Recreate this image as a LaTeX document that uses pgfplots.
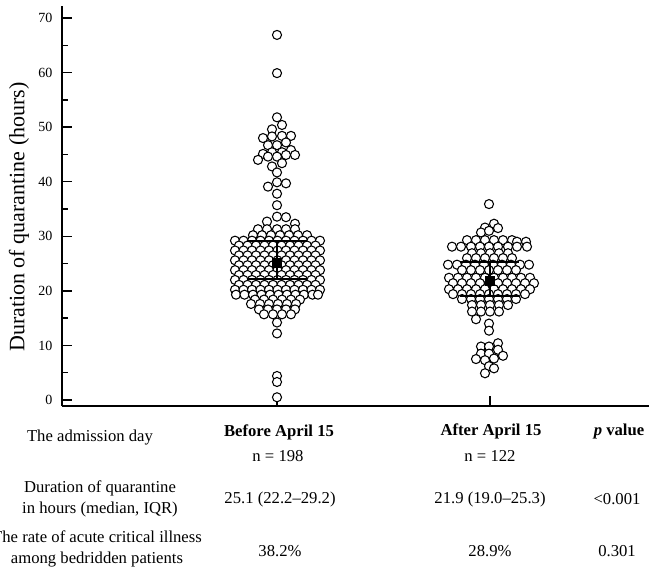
\documentclass[border=0pt]{standalone}
\usepackage{fontspec}
\setmainfont{Liberation Serif}
\usepackage{pgfplots}
\pgfplotsset{compat=1.18}

% x = horizontal position in image pixels, y = duration (hours)
\pgfplotstableread{
x y
277 66.9
277 59.9
277 51.8
282 50.4
272 49.6
263 48.0
272 48.3
282 48.4
291 48.4
268 46.7
277 46.7
286 47.2
263 45.1
272 45.4
282 45.4
291 45.8
295 44.9
258 44.0
268 44.6
277 44.6
286 44.9
272 42.8
282 43.4
277 41.7
277 39.9
268 39.1
286 39.7
277 37.8
277 35.7
267 32.7
277 33.6
286 33.5
295 32.3
258 31.3
267 31.3
277 31.3
286 31.3
295 31.3
253 30.2
262 30.2
271 30.2
280 30.2
289 30.2
298 30.2
307 30.2
235 29.2
243.5 29.2
252 29.2
260.5 29.2
269 29.2
277.5 29.2
286 29.2
294.5 29.2
303 29.2
311.5 29.2
320 29.2
239 28.3
247.5 28.3
256 28.3
264.5 28.3
273 28.3
281.5 28.3
290 28.3
298.5 28.3
307 28.3
315.5 28.3
235 27.4
243.5 27.4
252 27.4
260.5 27.4
269 27.4
277.5 27.4
286 27.4
294.5 27.4
303 27.4
311.5 27.4
320 27.4
239 26.5
247.5 26.5
256 26.5
264.5 26.5
273 26.5
281.5 26.5
290 26.5
298.5 26.5
307 26.5
315.5 26.5
235 25.6
243.5 25.6
252 25.6
260.5 25.6
269 25.6
277.5 25.6
286 25.6
294.5 25.6
303 25.6
311.5 25.6
320 25.6
239 24.7
247.5 24.7
256 24.7
264.5 24.7
273 24.7
281.5 24.7
290 24.7
298.5 24.7
307 24.7
315.5 24.7
235 23.8
243.5 23.8
252 23.8
260.5 23.8
269 23.8
277.5 23.8
286 23.8
294.5 23.8
303 23.8
311.5 23.8
320 23.8
239 22.9
247.5 22.9
256 22.9
264.5 22.9
273 22.9
281.5 22.9
290 22.9
298.5 22.9
307 22.9
315.5 22.9
235 22.0
243.5 22.0
252 22.0
260.5 22.0
269 22.0
277.5 22.0
286 22.0
294.5 22.0
303 22.0
311.5 22.0
320 22.0
239 21.1
247.5 21.1
256 21.1
264.5 21.1
273 21.1
281.5 21.1
290 21.1
298.5 21.1
307 21.1
315.5 21.1
235 20.2
243.5 20.2
252 20.2
260.5 20.2
269 20.2
277.5 20.2
286 20.2
294.5 20.2
303 20.2
311.5 20.2
320 20.2
236 19.3
244.5 19.3
253 19.3
261.5 19.3
270 19.3
278.5 19.3
287 19.3
295.5 19.3
304 19.3
312.5 19.3
318 19.3
255 18.4
264 18.4
273 18.4
282 18.4
291 18.4
300 18.4
251 17.6
260 17.6
269 17.6
278 17.6
287 17.6
296 17.6
259 16.6
268 16.6
277 16.6
286 16.6
295 16.6
264 15.7
273 15.7
282 15.7
291 15.7
277 14.2
277 12.2
277 4.4
277 3.3
277 0.5
}\before

\pgfplotstableread{
x y
489 35.9
485 31.6
494 32.3
498 31.5
481 30.7
489 31.0
467 29.3
476 29.3
485 29.3
494 29.3
503 29.3
512 29.3
517 29.0
526 29.0
452 28.1
461 28.1
471 28.1
480 28.1
489 28.1
498 28.1
508 28.1
517 28.1
527 28.1
472 26.9
481 26.9
490 26.9
499 26.9
508 26.9
467 26.0
476 26.0
485 26.0
494 26.0
503 26.0
512 26.0
448 24.8
457 24.8
466 24.8
475 24.8
484 24.8
493 24.8
502 24.8
511 24.8
520 24.8
529 24.8
462 23.8
471 23.8
480 23.8
489 23.8
498 23.8
507 23.8
516 23.8
449 22.4
458 22.4
467 22.4
476 22.4
485 22.4
494 22.4
503 22.4
512 22.4
521 22.4
530 22.4
453 21.4
462 21.4
471 21.4
480 21.4
489 21.4
498 21.4
507 21.4
516 21.4
525 21.4
534 21.4
449 20.3
458 20.3
467 20.3
476 20.3
485 20.3
494 20.3
503 20.3
512 20.3
521 20.3
530 20.3
453 19.4
462 19.4
471 19.4
480 19.4
489 19.4
498 19.4
507 19.4
516 19.4
525 19.4
462 18.5
471 18.5
480 18.5
489 18.5
498 18.5
507 18.5
516 18.5
472 17.4
481 17.4
490 17.4
499 17.4
508 17.4
472 16.2
481 16.2
490 16.2
499 16.2
476 14.8
489 14.0
489 12.7
498 10.4
481 9.8
489 9.8
481 8.5
489 8.5
498 9.2
503 8.1
476 7.5
485 7.3
494 7.6
489 6.2
494 5.8
485 4.9
}\after

\begin{document}
\begin{tikzpicture}
\begin{axis}[
  set layers,
  at={(46.5pt,-304.5pt)}, anchor=south west,
  scale only axis, width=440.25pt, height=300pt,
  xmin=62, xmax=649, ymin=-1.1, ymax=72.2,
  axis x line=bottom, axis y line=left,
  axis line style={-, line width=1.4pt},
  xtick={277,490}, xticklabels={},
  ytick={0,10,...,70}, minor y tick num=1,
  tick align=inside,
  major tick length=7.5pt, minor tick length=4.5pt,
  every tick/.style={black, line width=1pt},
  yticklabel style={font=\fontsize{10.5}{12}\selectfont, inner sep=0pt, xshift=-7pt},
  /pgf/number format/assume math mode=true,
  clip=false,
]
% individual patients
\addplot[only marks, mark=*, mark size=3.4pt,
  mark options={fill=white, draw=black, line width=0.8pt}] table[x=x, y=y] {\before};
\addplot[only marks, mark=*, mark size=3.4pt,
  mark options={fill=white, draw=black, line width=0.8pt}] table[x=x, y=y] {\after};

% median and IQR, on top of the circles
\addplot[on layer=axis foreground, line width=1.5pt] coordinates {(247,29.2) (307,29.2)};
\addplot[on layer=axis foreground, line width=1.5pt] coordinates {(247,22.2) (307,22.2)};
\addplot[on layer=axis foreground, line width=1.5pt] coordinates {(277,22.2) (277,29.2)};
\addplot[on layer=axis foreground, line width=1.5pt] coordinates {(460,25.3) (519,25.3)};
\addplot[on layer=axis foreground, line width=1.5pt] coordinates {(460,19.0) (519,19.0)};
\addplot[on layer=axis foreground, line width=1.5pt] coordinates {(490,19.0) (490,25.3)};
\addplot[on layer=axis foreground, only marks, mark=square*, mark size=3.3pt, black]
  coordinates {(277,25.1) (490,21.9)};
\end{axis}

\begin{scope}[x=0.75pt, y=-0.75pt, every node/.style={font=\fontsize{12.5}{16}\selectfont, inner sep=0pt}]
\node[rotate=90, font=\fontsize{16.5}{18}\selectfont] at (19,217) {Duration of quarantine (hours)};
\node at (90,438) {The admission day};
\node at (279,432) {\bfseries Before April 15};
\node at (278,456) {n = 198};
\node at (491,431) {\bfseries After April 15};
\node at (490,456) {n = 122};
\node at (619,431) {\textit{\bfseries p} \bfseries value};
\node[align=center] at (100,499) {Duration of quarantine\\in hours (median, IQR)};
\node at (280,499) {25.1 (22.2–29.2)};
\node at (490,499) {21.9 (19.0–25.3)};
\node at (617,499) {<0.001};
\node[align=center] at (97,549) {The rate of acute critical illness\\among bedridden patients};
\node at (280,551) {38.2\%};
\node at (490,551) {28.9\%};
\node at (617,551) {0.301};
\end{scope}

\pgfresetboundingbox
\useasboundingbox (0pt,0pt) rectangle (486.75pt,-425.25pt);
\end{tikzpicture}
\end{document}
